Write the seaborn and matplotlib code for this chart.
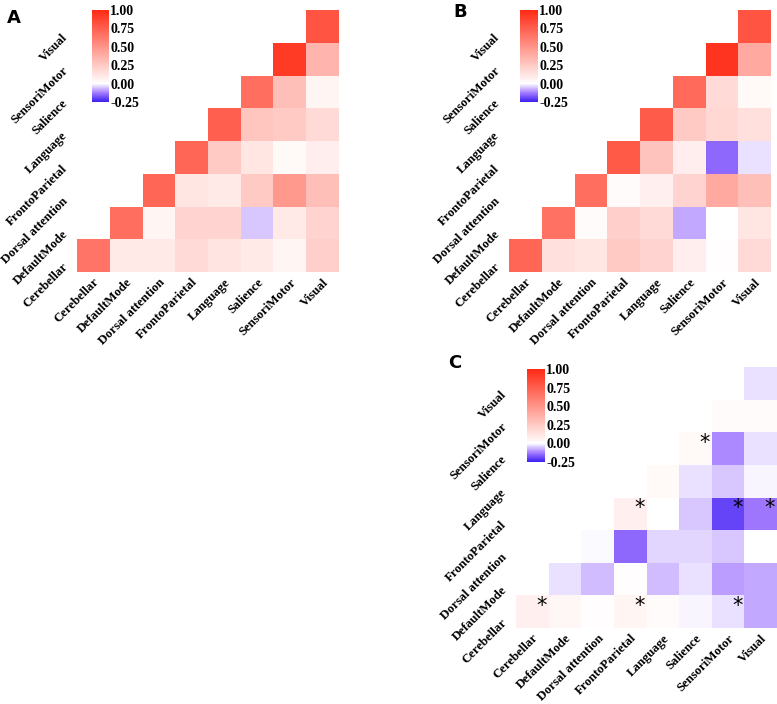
import numpy as np
import pandas as pd
import matplotlib
matplotlib.use("Agg")
import matplotlib.pyplot as plt
import matplotlib.transforms as mtransforms
import seaborn as sns
from matplotlib.colors import LinearSegmentedColormap
from matplotlib.ticker import FormatStrFormatter

# network names, in the order used for the columns (left to right)
networks = ['Cerebellar', 'DefaultMode', 'Dorsal attention', 'FrontoParietal',
            'Language', 'Salience', 'SensoriMotor', 'Visual']

# upper triangle values, row i holds columns i..7
corr_a = [
    [0.65, 0.10, 0.10, 0.17, 0.13, 0.10, 0.05, 0.22],
    [0.68, 0.05, 0.20, 0.20, -0.05, 0.10, 0.20],
    [0.72, 0.12, 0.10, 0.25, 0.48, 0.30],
    [0.72, 0.25, 0.12, 0.03, 0.08],
    [0.75, 0.27, 0.25, 0.17],
    [0.68, 0.30, 0.05],
    [0.92, 0.35],
    [0.80],
]
corr_b = [
    [0.72, 0.15, 0.12, 0.25, 0.20, 0.08, 0.01, 0.17],
    [0.66, 0.02, 0.22, 0.17, -0.08, 0.00, 0.12],
    [0.68, 0.02, 0.07, 0.20, 0.40, 0.30],
    [0.78, 0.28, 0.08, -0.15, -0.03],
    [0.77, 0.25, 0.18, 0.15],
    [0.70, 0.17, 0.03],
    [0.95, 0.40],
    [0.80],
]
corr_c = [
    [0.07, 0.04, 0.01, 0.05, 0.02, -0.01, -0.03, -0.08],
    [-0.03, -0.06, 0.01, -0.06, -0.03, -0.09, -0.08],
    [-0.005, -0.15, -0.04, -0.04, -0.05, 0.00],
    [0.07, 0.00, -0.05, -0.20, -0.13],
    [0.03, -0.03, -0.05, -0.01],
    [0.03, -0.11, -0.03],
    [0.02, 0.02],
    [-0.03],
]
# significant cells in C (row network, column network)
signif_c = [('Cerebellar', 'Cerebellar'), ('Cerebellar', 'FrontoParietal'),
            ('Cerebellar', 'SensoriMotor'), ('FrontoParietal', 'FrontoParietal'),
            ('FrontoParietal', 'SensoriMotor'), ('FrontoParietal', 'Visual'),
            ('Salience', 'Salience')]

cbar_ticks = [-0.25, 0.0, 0.25, 0.5, 0.75, 1.0]

cmap = LinearSegmentedColormap.from_list(
    'bwr_custom', [(0.0, '#3c1ef0'), (0.1, '#a47cff'), (0.2, '#ffffff'),
                   (1.0, '#ff2a14')])

SERIF = 'Liberation Serif'


def to_frame(tri):
    n = len(networks)
    m = np.full((n, n), np.nan)
    for i, row in enumerate(tri):
        m[i, i:] = row
    # top row of the plot is the last network
    return pd.DataFrame(m[::-1], index=networks[::-1], columns=networks)


def draw_panel(fig, rect, cbar_rect, tri, stars=None):
    ax = fig.add_axes(rect)
    cax = fig.add_axes(cbar_rect)
    df = to_frame(tri)
    sns.heatmap(df, ax=ax, cmap=cmap, vmin=-0.25, vmax=1.0, cbar_ax=cax,
                cbar_kws={'ticks': cbar_ticks}, linewidths=0, square=False)
    ax.set_xlabel('')
    ax.set_ylabel('')
    ax.tick_params(axis='x', length=0, pad=3)
    ax.tick_params(axis='y', length=0, pad=11)
    lbl = dict(rotation=45, ha='right', va='top', rotation_mode='anchor',
               fontsize=9.2, family=SERIF, fontweight='bold')
    ax.set_xticklabels(ax.get_xticklabels(), **lbl)
    ax.set_yticklabels(ax.get_yticklabels(), **lbl)
    shift = mtransforms.ScaledTranslation(0, -5 / 100, fig.dpi_scale_trans)
    for t in ax.get_yticklabels():
        t.set_transform(t.get_transform() + shift)

    cax.yaxis.set_major_formatter(FormatStrFormatter('%.2f'))
    cax.tick_params(length=0, pad=1, labelsize=10)
    for t in cax.get_yticklabels():
        t.set_family(SERIF)
        t.set_fontweight('bold')
    ax.collections[0].colorbar.outline.set_visible(False)

    if stars:
        rows = list(df.index)
        for r, c in stars:
            ax.text(networks.index(c) + 0.78, rows.index(r) + 0.32, '*',
                    ha='center', va='center', fontsize=15, color='black')
    return ax


W, H = 777, 704
fig = plt.figure(figsize=(W / 100, H / 100), dpi=100)
fig.patch.set_facecolor('white')


def frac(x0, y0, x1, y1):
    return [x0 / W, 1 - y1 / H, (x1 - x0) / W, (y1 - y0) / H]


draw_panel(fig, frac(77, 10, 339, 272), frac(92, 10, 109, 102), corr_a)
draw_panel(fig, frac(509, 10, 771, 272), frac(520, 10, 538, 102), corr_b)
draw_panel(fig, frac(516, 367, 777, 628), frac(527, 369, 545, 462), corr_c, signif_c)

fig.text(14 / W, 1 - 18 / H, 'A', fontsize=13, fontweight='bold', ha='center', va='center')
fig.text(460 / W, 1 - 12 / H, 'B', fontsize=13, fontweight='bold', ha='center', va='center')
fig.text(455 / W, 1 - 363 / H, 'C', fontsize=13, fontweight='bold', ha='center', va='center')

fig.savefig('out.png', dpi=100)
